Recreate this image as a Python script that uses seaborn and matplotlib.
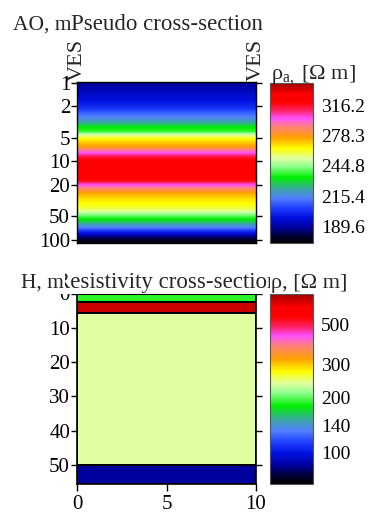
import numpy as np
import matplotlib
matplotlib.use("Agg")
import matplotlib.pyplot as plt
import seaborn as sns
from matplotlib.colors import LinearSegmentedColormap, LogNorm
from matplotlib.cm import ScalarMappable
import matplotlib.transforms as mtransforms

# ---------------- data ----------------
ves_pos = [0, 10]
ves_names = ["VES", "VES"]

ao = [0.971, 1.228, 1.647, 2.082, 2.411, 2.792, 3.139, 3.635, 4.210, 4.597,
      5.170, 5.813, 6.536, 7.138, 7.795, 8.512, 9.294, 12.10, 17.20, 19.35,
      21.76, 25.20, 29.18, 33.79, 39.12, 43.99, 48.03, 54.02, 58.98, 64.41,
      70.33, 76.81, 86.37, 97.12, 109.2]
rho_a = [188.1, 191.9, 197.1, 202.5, 209.4, 215.1, 221.0, 231.6, 237.9, 251.1,
         263.2, 270.4, 277.8, 289.2, 299.1, 309.3, 317.7, 324.2, 319.9, 303.1,
         289.2, 275.9, 268.3, 263.2, 259.7, 251.1, 242.8, 233.2, 227.0, 219.5,
         212.2, 202.5, 191.9, 181.9, 177.0]

layer_tops = [0, 2.6, 5.7, 50, 55.5]
layer_rho = [187.5, 679, 238, 85]

top_ticks = [189.6, 215.4, 244.8, 278.3, 316.2]
top_tick_labels = ["189.6", "215.4", "244.8", "278.3", "316.2"]
bot_ticks = [100, 140, 200, 300, 500]
bot_tick_labels = ["100", "140", "200", "300", "500"]
ao_ticks = [1, 2, 5, 10, 20, 50, 100]
h_ticks = [0, 10, 20, 30, 40, 50]
x_ticks = [0, 5, 10]

# ---------------- style ----------------
sns.set_style("ticks")
plt.rcParams["font.family"] = ["Liberation Serif", "DejaVu Serif"]
plt.rcParams["mathtext.fontset"] = "custom"
plt.rcParams["mathtext.rm"] = "Liberation Serif"
plt.rcParams["mathtext.it"] = "Liberation Serif"
plt.rcParams["axes.edgecolor"] = "black"
plt.rcParams["xtick.color"] = "black"
plt.rcParams["ytick.color"] = "black"

stops = [
    (0.00, "#000000"), (0.04, "#000030"), (0.10, "#0000a0"), (0.16, "#0010e0"),
    (0.22, "#2040ff"), (0.28, "#5080ff"), (0.33, "#40a0b0"), (0.41, "#00ee00"),
    (0.48, "#90ff90"), (0.53, "#e0ffa0"), (0.59, "#ffff00"), (0.66, "#ffa000"),
    (0.73, "#ff8080"), (0.78, "#ff50ff"), (0.83, "#ff2060"), (0.88, "#ff0000"),
    (0.93, "#ff0000"), (1.00, "#a00000"),
]
cmap = LinearSegmentedColormap.from_list("ves", stops, N=512)

W, H = 370, 515
fig = plt.figure(figsize=(W / 100, H / 100), dpi=100)

def box(x0, y0, x1, y1):
    return [x0 / W, 1 - y1 / H, (x1 - x0) / W, (y1 - y0) / H]

fs = 15
cfs = 14

# ---------------- top panel ----------------
ax1 = fig.add_axes(box(77, 81.5, 256, 243))
norm1 = LogNorm(vmin=177, vmax=347)
X1, Y1 = np.meshgrid(np.array(ves_pos, float), np.array(ao))
Z1 = np.repeat(np.array(rho_a)[:, None], 2, axis=1)
levels1 = np.geomspace(170, 350, 220)
ax1.contourf(X1, Y1, Z1, levels=levels1, cmap=cmap, norm=norm1, antialiased=False)
ax1.set_yscale("log")
ax1.set_ylim(109.2, 0.971)
ax1.set_xlim(0, 10)
ax1.set_yticks(ao_ticks)
ax1.set_yticklabels([str(t) for t in ao_ticks], fontsize=fs)
ax1.yaxis.set_minor_locator(matplotlib.ticker.NullLocator())
ax1.tick_params(axis="y", which="both", left=True, right=True, direction="out",
                length=4, width=1, pad=1)
ax1.set_xticks([])
for s in ax1.spines.values():
    s.set_linewidth(1)
trans = mtransforms.blended_transform_factory(ax1.transData, ax1.transAxes)
for xp, nm in zip(ves_pos, ves_names):
    ax1.text(xp, 1.005, nm, rotation=90, ha="center", va="bottom",
             fontsize=16, transform=trans, clip_on=False)

cax1 = fig.add_axes(box(270, 83, 313, 243))
cb1 = fig.colorbar(ScalarMappable(norm=norm1, cmap=cmap), cax=cax1)
cb1.ax.minorticks_off()
cb1.set_ticks(top_ticks, labels=top_tick_labels)
cb1.ax.tick_params(length=0, labelsize=cfs, pad=6)
cb1.outline.set_edgecolor("#555555")
cb1.outline.set_linewidth(0.8)

fig.text(13 / W, 1 - 30 / H, "AO, m", fontsize=15.5, ha="left", va="baseline")
fig.text(166.5 / W, 1 - 30 / H, "Pseudo cross-section", fontsize=16.5,
         ha="center", va="baseline")
fig.text(271 / W, 1 - 79 / H, r"$\rho_{a,}$ [Ω m]", fontsize=16,
         ha="left", va="baseline")

# ---------------- bottom panel ----------------
ax2 = fig.add_axes(box(77, 293.5, 256, 484))
norm2 = LogNorm(vmin=67, vmax=733)
C2 = np.array(layer_rho)[:, None]
ax2.pcolormesh(np.array(ves_pos, float), np.array(layer_tops), C2, cmap=cmap,
               norm=norm2, edgecolors="black", linewidth=1.2, shading="flat")
ax2.set_ylim(55.5, 0)
ax2.set_xlim(0, 10)
ax2.set_yticks(h_ticks)
ax2.set_yticklabels([str(t) for t in h_ticks], fontsize=fs)
ax2.set_xticks(x_ticks)
ax2.set_xticklabels([str(t) for t in x_ticks], fontsize=fs)
ax2.tick_params(axis="y", left=True, right=True, direction="out", length=4,
                width=1, pad=1)
ax2.tick_params(axis="x", bottom=True, direction="out", length=5, width=1, pad=3)
for s in ax2.spines.values():
    s.set_linewidth(1.2)

cax2 = fig.add_axes(box(270, 294, 313, 484))
cb2 = fig.colorbar(ScalarMappable(norm=norm2, cmap=cmap), cax=cax2)
cb2.ax.minorticks_off()
cb2.set_ticks(bot_ticks, labels=bot_tick_labels)
cb2.ax.tick_params(length=0, labelsize=cfs, pad=6)
cb2.outline.set_edgecolor("#555555")
cb2.outline.set_linewidth(0.8)

wb = dict(facecolor="white", edgecolor="none", pad=1.0)
fig.text(166.5 / W, 1 - 288 / H, "Resistivity cross-section", fontsize=16.5,
         ha="center", va="baseline", bbox=wb)
fig.text(21 / W, 1 - 288 / H, "H, m", fontsize=15.5, ha="left", va="baseline",
         bbox=wb)
fig.text(271 / W, 1 - 288 / H, "ρ, [Ω m]", fontsize=16, ha="left",
         va="baseline", bbox=wb)

fig.savefig("out.png", dpi=100)
